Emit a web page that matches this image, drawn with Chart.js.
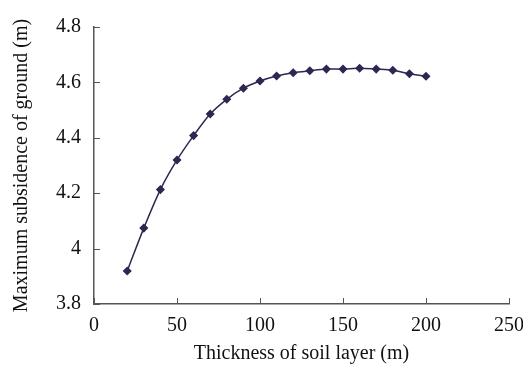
<!DOCTYPE html>
<html>
<head>
<meta charset="utf-8">
<script src="https://cdn.jsdelivr.net/npm/chart.js@4"></script>
<style>
  html, body { margin: 0; padding: 0; background: #fff; }
  #wrap { width: 523px; height: 366px; }
</style>
</head>
<body>
<div id="wrap"><canvas id="c" width="523" height="366"></canvas></div>
<script>
// thickness of soil layer (m)
const thickness = [20, 30, 40, 50, 60, 70, 80, 90, 100, 110, 120, 130, 140, 150, 160, 170, 180, 190, 200];
// maximum subsidence of ground (m)
const subsidence = [3.919, 4.074, 4.213, 4.320, 4.408, 4.486, 4.539, 4.579, 4.605, 4.623, 4.635,
                    4.642, 4.648, 4.648, 4.651, 4.648, 4.644, 4.631, 4.622];
const xTitle = 'Thickness of soil layer (m)';
const yTitle = 'Maximum subsidence of ground (m)';

const serif = "'Liberation Serif', 'DejaVu Serif', serif";
const axisColor = '#555';

// inward tick marks, like the original
const innerTicks = {
    id: 'innerTicks',
    afterDraw(chart) {
        const ctx = chart.ctx, a = chart.chartArea;
        const xs = chart.scales.x, ys = chart.scales.y;
        ctx.save();
        ctx.strokeStyle = axisColor; ctx.lineWidth = 1;
        ctx.beginPath();
        xs.ticks.forEach(t => {
            const px = Math.round(xs.getPixelForValue(t.value)) + 0.5;
            ctx.moveTo(px, a.bottom); ctx.lineTo(px, a.bottom - 6);
        });
        ys.ticks.forEach(t => {
            const py = Math.round(ys.getPixelForValue(t.value)) + 0.5;
            ctx.moveTo(a.left, py); ctx.lineTo(a.left + 6, py);
        });
        ctx.stroke();
        ctx.restore();
    }
};

new Chart(document.getElementById('c').getContext('2d'), {
    type: 'scatter',
    data: {
        datasets: [{
            data: thickness.map((x, i) => ({ x: x, y: subsidence[i] })),
            showLine: true,
            borderColor: '#2f2752',
            backgroundColor: '#2f2752',
            borderWidth: 1.5,
            pointStyle: 'rectRot',
            pointRadius: 3.5,
            pointHoverRadius: 3.5,
            tension: 0.3
        }]
    },
    options: {
        responsive: false, animation: false,
        layout: { padding: { top: 27, right: 0, left: 0, bottom: 0 } },
        plugins: { legend: { display: false }, tooltip: { enabled: false } },
        scales: {
            x: {
                type: 'linear', min: 0, max: 250,
                ticks: { stepSize: 50, color: '#111', font: { family: serif, size: 20 }, padding: 10, maxRotation: 0 },
                grid: { display: false, drawTicks: false },
                border: { color: axisColor, width: 1.5 },
                title: { display: true, text: xTitle, color: '#111', font: { family: serif, size: 20 }, padding: { top: 0, bottom: 0 } },
                afterFit: s => { s.height = 62; s.paddingRight = 14; }
            },
            y: {
                type: 'linear', min: 3.8, max: 4.8,
                ticks: {
                    stepSize: 0.2, color: '#111', font: { family: serif, size: 20 }, padding: 13,
                    callback: v => String(Math.round(v * 10) / 10)
                },
                grid: { display: false, drawTicks: false },
                border: { color: axisColor, width: 1.5 },
                title: { display: true, text: yTitle, color: '#111', font: { family: serif, size: 20 }, padding: { top: 10, bottom: 0 } },
                afterFit: s => { s.width = 94; }
            }
        }
    },
    plugins: [innerTicks]
});
</script>
</body>
</html>
